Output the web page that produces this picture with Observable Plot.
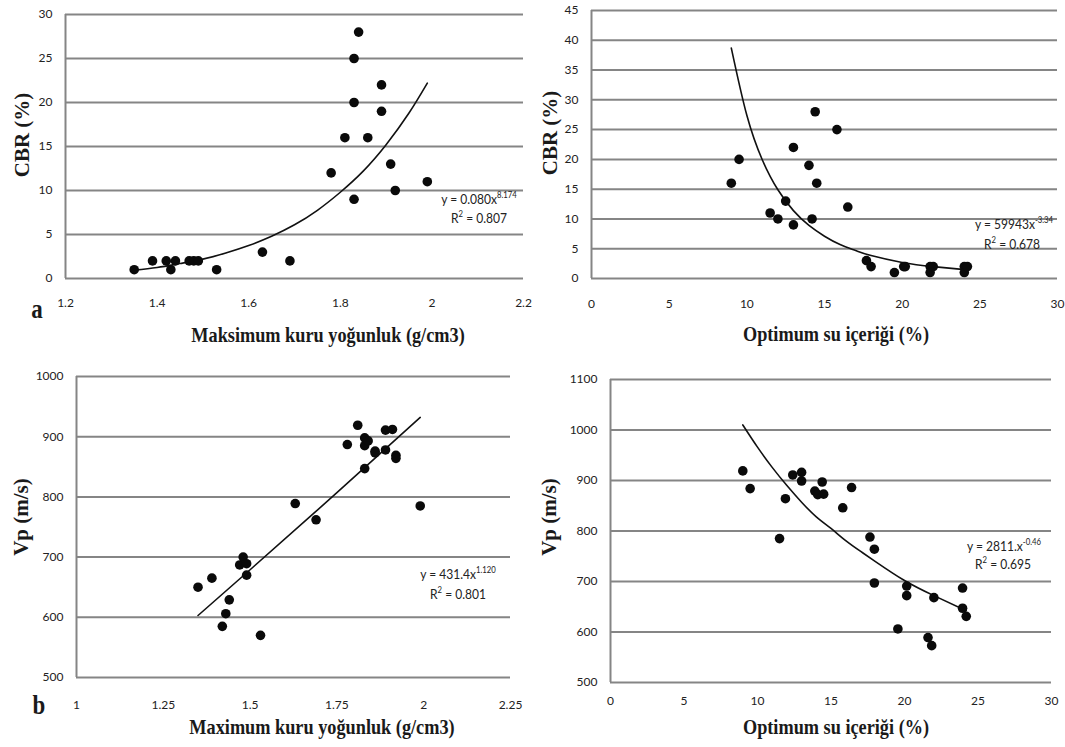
<!DOCTYPE html>
<html>
<head>
<meta charset="utf-8">
<script src="https://cdn.jsdelivr.net/npm/d3@7"></script>
<script src="https://cdn.jsdelivr.net/npm/@observablehq/plot@0.6"></script>
<style>
  html, body { margin: 0; padding: 0; background: #fff; }
  #wrap { position: relative; width: 1065px; height: 747px; overflow: hidden; font-family: Lato, "Liberation Sans", sans-serif; }
  .panel { position: absolute; }
  .panel svg { display: block; }
  .ytitle, .xtitle, .tag { position: absolute; font-family: "Liberation Serif", "DejaVu Serif", serif; font-weight: bold; color: #1a1a1a; white-space: nowrap; line-height: 1; }
  .ytitle { font-size: 21px; transform: translate(-50%, -50%) rotate(-90deg); }
  .xtitle { font-size: 22px; transform: translate(-50%, -50%) scaleX(0.83); }
  .tag { font-size: 27px; transform: translate(-50%, -50%) scaleX(0.85); }
  .eq { position: absolute; font-family: Lato, "Liberation Sans", sans-serif; font-size: 14px; color: #222; white-space: nowrap; transform: translate(-50%, -50%) scaleX(0.86); line-height: 1; }
  .eq sup { font-size: 9px; vertical-align: 6px; }
</style>
</head>
<body>
<div id="wrap"></div>
<script>
// ---------- Data ----------
// (a) left: CBR vs maximum dry density
const densityTicksA = [1.2, 1.4, 1.6, 1.8, 2, 2.2];
const cbrTicksA = [0, 5, 10, 15, 20, 25, 30];
const cbrDensityX = [1.35, 1.39, 1.42, 1.43, 1.44, 1.47, 1.48, 1.49, 1.53, 1.63, 1.69, 1.78, 1.81, 1.83, 1.83, 1.83, 1.84, 1.86, 1.89, 1.89, 1.91, 1.92, 1.99];
const cbrDensityY = [1, 2, 2, 1, 2, 2, 2, 2, 1, 3, 2, 12, 16, 9, 20, 25, 28, 16, 22, 19, 13, 10, 11];
const cbrDensityFitX = [1.35, 1.4, 1.45, 1.5, 1.55, 1.6, 1.65, 1.7, 1.75, 1.8, 1.85, 1.9, 1.95, 1.99];
const cbrDensityFitY = [0.95, 1.25, 1.7, 2.2, 2.9, 3.75, 4.8, 6.1, 7.75, 9.8, 12.2, 15.2, 18.8, 22.2];

// (a) right: CBR vs optimum water content
const waterTicks = [0, 5, 10, 15, 20, 25, 30];
const cbrTicksB = [0, 5, 10, 15, 20, 25, 30, 35, 40, 45];
const cbrWaterX = [9.0, 9.5, 11.5, 12.0, 12.5, 13.0, 13.0, 14.0, 14.2, 14.4, 14.5, 15.8, 16.5, 17.7, 18.0, 19.5, 20.1, 20.2, 21.8, 21.8, 22.0, 24.0, 24.0, 24.2];
const cbrWaterY = [16, 20, 11, 10, 13, 22, 9, 19, 10, 28, 16, 25, 12, 3, 2, 1, 2, 2, 2, 1, 2, 2, 1, 2];
const cbrWaterFitX = [9, 10, 11, 12, 13, 14, 15, 16, 17, 18, 20, 22, 24.2];
const cbrWaterFitY = [38.7, 27.4, 19.9, 14.9, 11.4, 8.9, 7.1, 5.7, 4.7, 3.85, 2.7, 2.0, 1.45];

// (b) left: Vp vs maximum dry density
const densityTicksB = [1, 1.25, 1.5, 1.75, 2, 2.25];
const vpTicksC = [500, 600, 700, 800, 900, 1000];
const vpDensityX = [1.35, 1.39, 1.42, 1.43, 1.44, 1.47, 1.48, 1.49, 1.49, 1.53, 1.63, 1.69, 1.78, 1.81, 1.83, 1.83, 1.83, 1.84, 1.86, 1.86, 1.89, 1.89, 1.91, 1.92, 1.92, 1.99];
const vpDensityY = [650, 665, 585, 606, 629, 687, 700, 689, 670, 570, 789, 762, 887, 919, 847, 898, 885, 893, 876, 873, 911, 878, 912, 869, 864, 785];
const vpDensityFitX = [1.35, 1.5, 1.75, 1.99];
const vpDensityFitY = [603, 679, 807, 932];

// (b) right: Vp vs optimum water content
const vpTicksD = [500, 600, 700, 800, 900, 1000, 1100];
const vpWaterX = [9.0, 9.5, 11.5, 11.9, 12.4, 13.0, 13.0, 13.9, 14.1, 14.4, 14.5, 15.8, 16.4, 17.65, 17.95, 17.95, 19.55, 20.15, 20.15, 21.6, 21.85, 22.0, 23.95, 23.95, 24.2];
const vpWaterY = [919, 884, 785, 864, 911, 916, 899, 879, 872, 897, 873, 846, 886, 788, 764, 697, 606, 691, 672, 589, 573, 668, 687, 647, 631];
const vpWaterFitX = [9, 10, 11, 12, 13, 14, 15, 16, 17, 18, 20, 22, 24.2];
const vpWaterFitY = [1010, 966, 926, 890, 857, 828, 805, 781, 760, 740, 702, 672, 642];

// ---------- Drawing ----------
const wrap = document.getElementById("wrap");
const zip = (xs, ys) => xs.map((x, i) => ({x, y: ys[i]}));

function panel({left, top, width, height, margins, xTicks, yTicks, xPad, pts, fit}) {
  const [mt, mr, mb, ml] = margins;
  const chart = Plot.plot({
    width, height,
    marginTop: mt, marginRight: mr, marginBottom: mb, marginLeft: ml,
    style: {fontFamily: "Lato, 'Liberation Sans', sans-serif", fontSize: "12px", color: "#222", background: "transparent", overflow: "visible"},
    x: {domain: [xTicks[0], xTicks[xTicks.length - 1]], ticks: xTicks, tickSize: 0, tickPadding: xPad, tickFormat: d => String(d), label: null},
    y: {domain: [yTicks[0], yTicks[yTicks.length - 1]], ticks: yTicks, tickSize: 0, tickPadding: 13, tickFormat: d => String(d), label: null},
    marks: [
      Plot.ruleY(yTicks, {stroke: "#858585", strokeWidth: 2}),
      Plot.ruleX([xTicks[0]], {stroke: "#858585", strokeWidth: 2}),
      Plot.line(fit, {x: "x", y: "y", stroke: "#111", strokeWidth: 1.6, curve: "natural"}),
      Plot.dot(pts, {x: "x", y: "y", r: 4.8, fill: "#0a0a0a", stroke: "none"})
    ]
  });
  const div = document.createElement("div");
  div.className = "panel";
  div.style.left = left + "px";
  div.style.top = top + "px";
  div.appendChild(chart);
  wrap.appendChild(div);
}

function label(cls, html, x, y) {
  const d = document.createElement("div");
  d.className = cls;
  d.innerHTML = html;
  d.style.left = x + "px";
  d.style.top = y + "px";
  wrap.appendChild(d);
}

panel({left: 0, top: 0, width: 540, height: 320, margins: [14, 17, 42, 65],
  xTicks: densityTicksA, yTicks: cbrTicksA, xPad: 20,
  pts: zip(cbrDensityX, cbrDensityY), fit: zip(cbrDensityFitX, cbrDensityFitY)});
panel({left: 530, top: 0, width: 535, height: 320, margins: [10, 8, 42, 61],
  xTicks: waterTicks, yTicks: cbrTicksB, xPad: 21,
  pts: zip(cbrWaterX, cbrWaterY), fit: zip(cbrWaterFitX, cbrWaterFitY)});
panel({left: 0, top: 360, width: 540, height: 360, margins: [16, 30, 43, 76],
  xTicks: densityTicksB, yTicks: vpTicksC, xPad: 23,
  pts: zip(vpDensityX, vpDensityY), fit: zip(vpDensityFitX, vpDensityFitY)});
panel({left: 530, top: 360, width: 535, height: 360, margins: [19, 14, 38, 80],
  xTicks: waterTicks, yTicks: vpTicksD, xPad: 14,
  pts: zip(vpWaterX, vpWaterY), fit: zip(vpWaterFitX, vpWaterFitY)});

// axis titles
label("ytitle", "CBR (%)", 22, 135);
label("ytitle", "CBR (%)", 550, 133);
label("ytitle", "Vp (m/s)", 21, 517);
label("ytitle", "Vp (m/s)", 549, 517);
label("xtitle", "Maksimum kuru yoğunluk (g/cm3)", 328, 335);
label("xtitle", "Optimum su içeriği (%)", 836, 334);
label("xtitle", "Maximum kuru yoğunluk (g/cm3)", 322, 727);
label("xtitle", "Optimum su içeriği (%)", 836, 727);
label("tag", "a", 37, 309);
label("tag", "b", 39, 705);

// trend equations
label("eq", "y = 0.080x<sup>8.174</sup>", 479, 198);
label("eq", "R<sup>2</sup> = 0.807", 479, 217);
label("eq", "y = 59943x<sup>-3.34</sup>", 1014, 223);
label("eq", "R<sup>2</sup> = 0.678", 1012, 243);
label("eq", "y = 431.4x<sup>1.120</sup>", 458, 573);
label("eq", "R<sup>2</sup> = 0.801", 458, 593);
label("eq", "y = 2811.x<sup>-0.46</sup>", 1004, 545);
label("eq", "R<sup>2</sup> = 0.695", 1003, 563);
</script>
</body>
</html>
